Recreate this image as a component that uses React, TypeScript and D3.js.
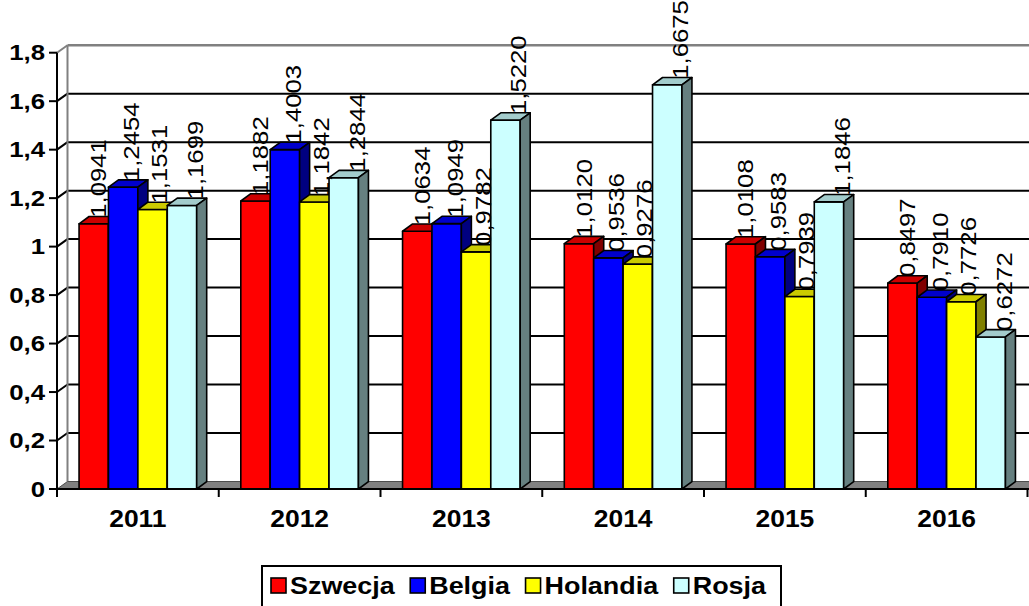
import React from "react";
import * as d3 from "d3";

const categories = ["2011", "2012", "2013", "2014", "2015", "2016"];
const seriesNames = ["Szwecja", "Belgia", "Holandia", "Rosja"];
const szwecja = [1.0941, 1.1882, 1.0634, 1.012, 1.0108, 0.8497];
const belgia = [1.2454, 1.4003, 1.0949, 0.9536, 0.9583, 0.791];
const holandia = [1.1531, 1.1842, 0.9782, 0.9276, 0.7939, 0.7726];
const rosja = [1.1699, 1.2844, 1.522, 1.6675, 1.1846, 0.6272];
const yTicks = [0, 0.2, 0.4, 0.6, 0.8, 1, 1.2, 1.4, 1.6, 1.8];

const seriesValues = [szwecja, belgia, holandia, rosja];
const frontColors = ["#FF0000", "#0000FF", "#FFFF00", "#CCFFFF"];
const topColors = ["#CC0000", "#0000CC", "#CCCC00", "#A3CCCC"];
const sideColors = ["#800000", "#000080", "#808000", "#668080"];
const labelShift = [4.5, 8, 6.5, 13];

const W = 1029;
const H = 606;
const FONT = "'Liberation Sans', Arial, sans-serif";
const STRETCH = 1.17;

const fmt = (v: number) => v.toFixed(4).replace(".", ",");
const fmtTick = (v: number) => (Math.round(v * 10) / 10).toString().replace(".", ",");

export default function App() {
  const x0 = 57;
  const x1 = 1027.5;
  const yBase = 489;
  const yTop = 52.7;
  const wdx = 10.5;
  const wdy = 7.5;
  const bdx = 10;
  const bdy = 7.3;

  const y = d3.scaleLinear().domain([0, 1.8]).range([yBase, yTop]);
  const xCat = d3.scaleBand<string>().domain(categories).range([x0, x1]).paddingInner(0).paddingOuter(0);
  const xSer = d3
    .scaleBand<string>()
    .domain(seriesNames)
    .range([0, xCat.bandwidth()])
    .paddingInner(0)
    .paddingOuter(0.75);
  const bw = xSer.bandwidth();

  const bars: React.ReactNode[] = [];
  const labels: React.ReactNode[] = [];
  categories.forEach((c, ci) => {
    seriesNames.forEach((s, si) => {
      const v = seriesValues[si][ci];
      const bx0 = (xCat(c) as number) + (xSer(s) as number);
      const bx1 = bx0 + bw;
      const by = y(v);
      const front = `M${bx0},${yBase}L${bx0},${by}L${bx1},${by}L${bx1},${yBase}Z`;
      const top = `M${bx0},${by}L${bx0 + bdx},${by - bdy}L${bx1 + bdx},${by - bdy}L${bx1},${by}Z`;
      const side = `M${bx1},${by}L${bx1 + bdx},${by - bdy}L${bx1 + bdx},${yBase - bdy}L${bx1},${yBase}Z`;
      bars.push(
        <g key={`b-${ci}-${si}`} stroke="#000" strokeWidth={1.6} strokeLinejoin="round">
          <path d={front} fill={frontColors[si]} />
          <path d={top} fill={topColors[si]} />
          <path d={side} fill={sideColors[si]} />
        </g>
      );
      const cx = (bx0 + bx1) / 2 + labelShift[si];
      const ly = by - 6;
      labels.push(
        <text
          key={`l-${ci}-${si}`}
          transform={`translate(${cx + 8},${ly}) rotate(-90) scale(${STRETCH},1)`}
          fontFamily={FONT}
          fontSize={22}
          fill="#000"
        >
          {fmt(v)}
        </text>
      );
    });
  });

  const legendItems = seriesNames.map((s, i) => ({ name: s, color: frontColors[i] }));
  const legendFont = 23;
  const em: Record<string, number> = {
    S: 0.667, z: 0.5, w: 0.778, e: 0.556, c: 0.556, j: 0.278, a: 0.556,
    B: 0.722, l: 0.278, g: 0.611, i: 0.278, H: 0.722, o: 0.611, n: 0.611,
    d: 0.611, R: 0.722, s: 0.556,
  };
  const textW = (t: string) =>
    t.split("").reduce((acc, ch) => acc + (em[ch] ?? 0.6), 0) * legendFont * STRETCH;
  const boxX0 = 262;
  const boxX1 = 781;
  const sq = 15;
  const gapSqText = 4;
  const widths = legendItems.map((it) => sq + gapSqText + textW(it.name));
  const totalItems = widths.reduce((a, b) => a + b, 0);
  const padL = 9;
  const padR = 15;
  const itemGap = (boxX1 - boxX0 - padL - padR - totalItems) / (legendItems.length - 1);
  let lx = boxX0 + padL;
  const legendY = 586;

  return (
    <svg
      width={W}
      height={H}
      style={{ position: "absolute", left: 0, top: 0, background: "#fff" }}
      xmlns="http://www.w3.org/2000/svg"
    >
      <rect x={0} y={0} width={W} height={H} fill="#fff" />
      {yTicks.map((t, i) => {
        const yy = y(t);
        const isTop = i === yTicks.length - 1;
        if (t === 0) return null;
        return (
          <g key={`g-${i}`}>
            <line
              x1={x0}
              y1={yy}
              x2={x0 + wdx}
              y2={yy - wdy}
              stroke={isTop ? "#808080" : "#000"}
              strokeWidth={2}
            />
            <line
              x1={x0 + wdx}
              y1={yy - wdy}
              x2={W + 20}
              y2={yy - wdy}
              stroke={isTop ? "#808080" : "#000"}
              strokeWidth={isTop ? 2.5 : 2}
            />
          </g>
        );
      })}
      <line x1={x0 + wdx} y1={y(1.8) - wdy} x2={x0 + wdx} y2={yBase - wdy} stroke="#808080" strokeWidth={2} />
      <path
        d={`M${x0},${yBase}L${x0 + wdx},${yBase - wdy}L${W + 20},${yBase - wdy}L${W + 20},${yBase}Z`}
        fill="#808080"
        stroke="#4d4d4d"
        strokeWidth={1}
      />
      {bars}
      <line x1={x0} y1={yTop} x2={x0} y2={yBase + 8} stroke="#000" strokeWidth={2} />
      <line x1={x0} y1={yBase} x2={W + 20} y2={yBase} stroke="#000" strokeWidth={2} />
      {yTicks.map((t, i) => (
        <g key={`yt-${i}`}>
          <line x1={x0 - 8} y1={y(t)} x2={x0} y2={y(t)} stroke="#000" strokeWidth={2} />
          <text
            transform={`translate(45,${y(t)}) scale(1.2,1)`}
            dy="0.36em"
            textAnchor="end"
            fontFamily={FONT}
            fontWeight="bold"
            fontSize={21.5}
            fill="#000"
          >
            {fmtTick(t)}
          </text>
        </g>
      ))}
      {categories.map((c, i) => (
        <g key={`xt-${i}`}>
          <line
            x1={(xCat(c) as number) + xCat.bandwidth()}
            y1={yBase}
            x2={(xCat(c) as number) + xCat.bandwidth()}
            y2={yBase + 8}
            stroke="#000"
            strokeWidth={2}
          />
          <text
            transform={`translate(${(xCat(c) as number) + xCat.bandwidth() / 2},527) scale(1.15,1)`}
            textAnchor="middle"
            fontFamily={FONT}
            fontWeight="bold"
            fontSize={23}
            fill="#000"
          >
            {c}
          </text>
        </g>
      ))}
      {labels}
      <rect x={boxX0} y={566} width={boxX1 - boxX0} height={46} fill="#fff" stroke="#000" strokeWidth={2} />
      {legendItems.map((it, i) => {
        const gx = lx;
        lx += widths[i] + itemGap;
        return (
          <g key={`lg-${i}`}>
            <rect x={gx} y={legendY - 8} width={sq} height={sq} fill={it.color} stroke="#000" strokeWidth={1.6} />
            <text
              transform={`translate(${gx + sq + gapSqText},${legendY}) scale(${STRETCH},1)`}
              dy="0.36em"
              fontFamily={FONT}
              fontWeight="bold"
              fontSize={legendFont}
              fill="#000"
            >
              {it.name}
            </text>
          </g>
        );
      })}
    </svg>
  );
}
